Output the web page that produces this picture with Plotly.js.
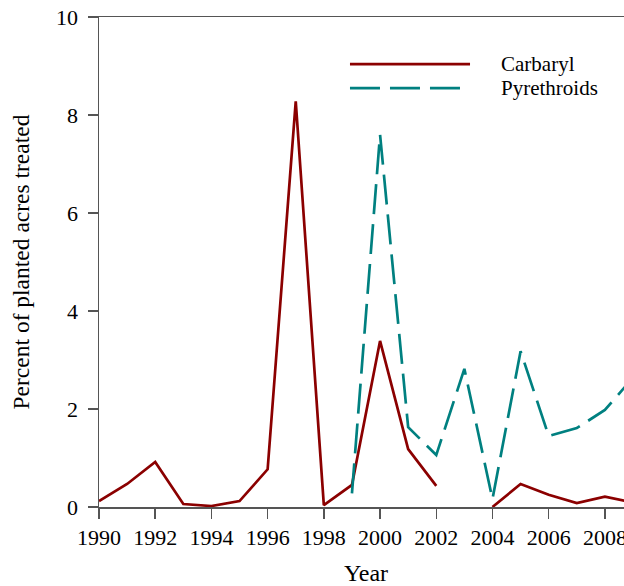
<!DOCTYPE html>
<html>
<head>
<meta charset="utf-8">
<script src="https://cdn.plot.ly/plotly-3.0.1.min.js"></script>
<style>
html, body { margin: 0; padding: 0; overflow: hidden; background: #fff; }
#chart { width: 650px; height: 586px; }
</style>
</head>
<body>
<div id="chart"></div>
<script>
const years = [1990,1991,1992,1993,1994,1995,1996,1997,1998,1999,2000,2001,2002,2003,2004,2005,2006,2007,2008,2009];
const carbaryl = [0.12,0.47,0.92,0.06,0.02,0.12,0.77,8.28,0.04,0.45,3.39,1.18,0.43,null,0,0.47,0.25,0.08,0.21,0.09];
const pyrethroids = [null,null,null,null,null,null,null,null,null,0.28,7.6,1.63,1.06,2.82,0.16,3.18,1.45,1.61,1.98,2.64];
const seriesNames = ['Carbaryl','Pyrethroids'];
const seriesColors = ['#8b0000','#008080'];

const FONT = 'Liberation Serif, Times New Roman, serif';

const traces = [
  {x: years, y: carbaryl, name: seriesNames[0], type: 'scatter', mode: 'lines',
   connectgaps: false, showlegend: false,
   line: {color: seriesColors[0], width: 2.7}},
  {x: years, y: pyrethroids, name: seriesNames[1], type: 'scatter', mode: 'lines',
   connectgaps: false, showlegend: false,
   line: {color: seriesColors[1], width: 2.7, dash: '30px,10px'}}
];

// custom legend (paper coordinates)
const legY = [0.904, 0.855];
const legX0 = 0.470, legX1 = [0.6948, 0.676], legTx = 0.749;
const shapes = [0,1].map(i => ({
  type: 'line', xref: 'paper', yref: 'paper',
  x0: legX0, x1: legX1[i], y0: legY[i], y1: legY[i],
  line: {color: seriesColors[i], width: 2.7, dash: i === 1 ? '30px,10px' : 'solid'}
}));
const annotations = [0,1].map(i => ({
  xref: 'paper', yref: 'paper', x: legTx, y: legY[i],
  xanchor: 'left', yanchor: 'middle', showarrow: false,
  text: seriesNames[i], font: {family: FONT, size: 21, color: '#000'}
}));

const layout = {
  width: 650, height: 586,
  margin: {l: 99, r: 17, t: 17, b: 79},
  paper_bgcolor: '#fff', plot_bgcolor: '#fff',
  font: {family: FONT, size: 22, color: '#000'},
  showlegend: false,
  xaxis: {
    range: [1990, 2009], tick0: 1990, dtick: 2,
    showgrid: false, zeroline: false,
    showline: true, mirror: true, linecolor: '#555', linewidth: 1.5,
    ticks: 'outside', ticklen: 10, tickwidth: 1.5, tickcolor: '#555',
    tickfont: {family: FONT, size: 22, color: '#000'},
    title: {text: 'Year', font: {family: FONT, size: 24, color: '#000'}, standoff: 20}
  },
  yaxis: {
    range: [0, 10], tick0: 0, dtick: 2,
    showgrid: false, zeroline: false,
    showline: true, mirror: true, linecolor: '#555', linewidth: 1.5,
    ticks: 'outside', ticklen: 10, tickwidth: 1.5, tickcolor: '#555',
    ticklabelstandoff: 5,
    tickfont: {family: FONT, size: 22, color: '#000'},
    title: {text: 'Percent of planted acres treated', font: {family: FONT, size: 23.5, color: '#000'}, standoff: 20}
  },
  shapes: shapes,
  annotations: annotations
};

Plotly.newPlot('chart', traces, layout, {staticPlot: true, displayModeBar: false});
</script>
</body>
</html>
